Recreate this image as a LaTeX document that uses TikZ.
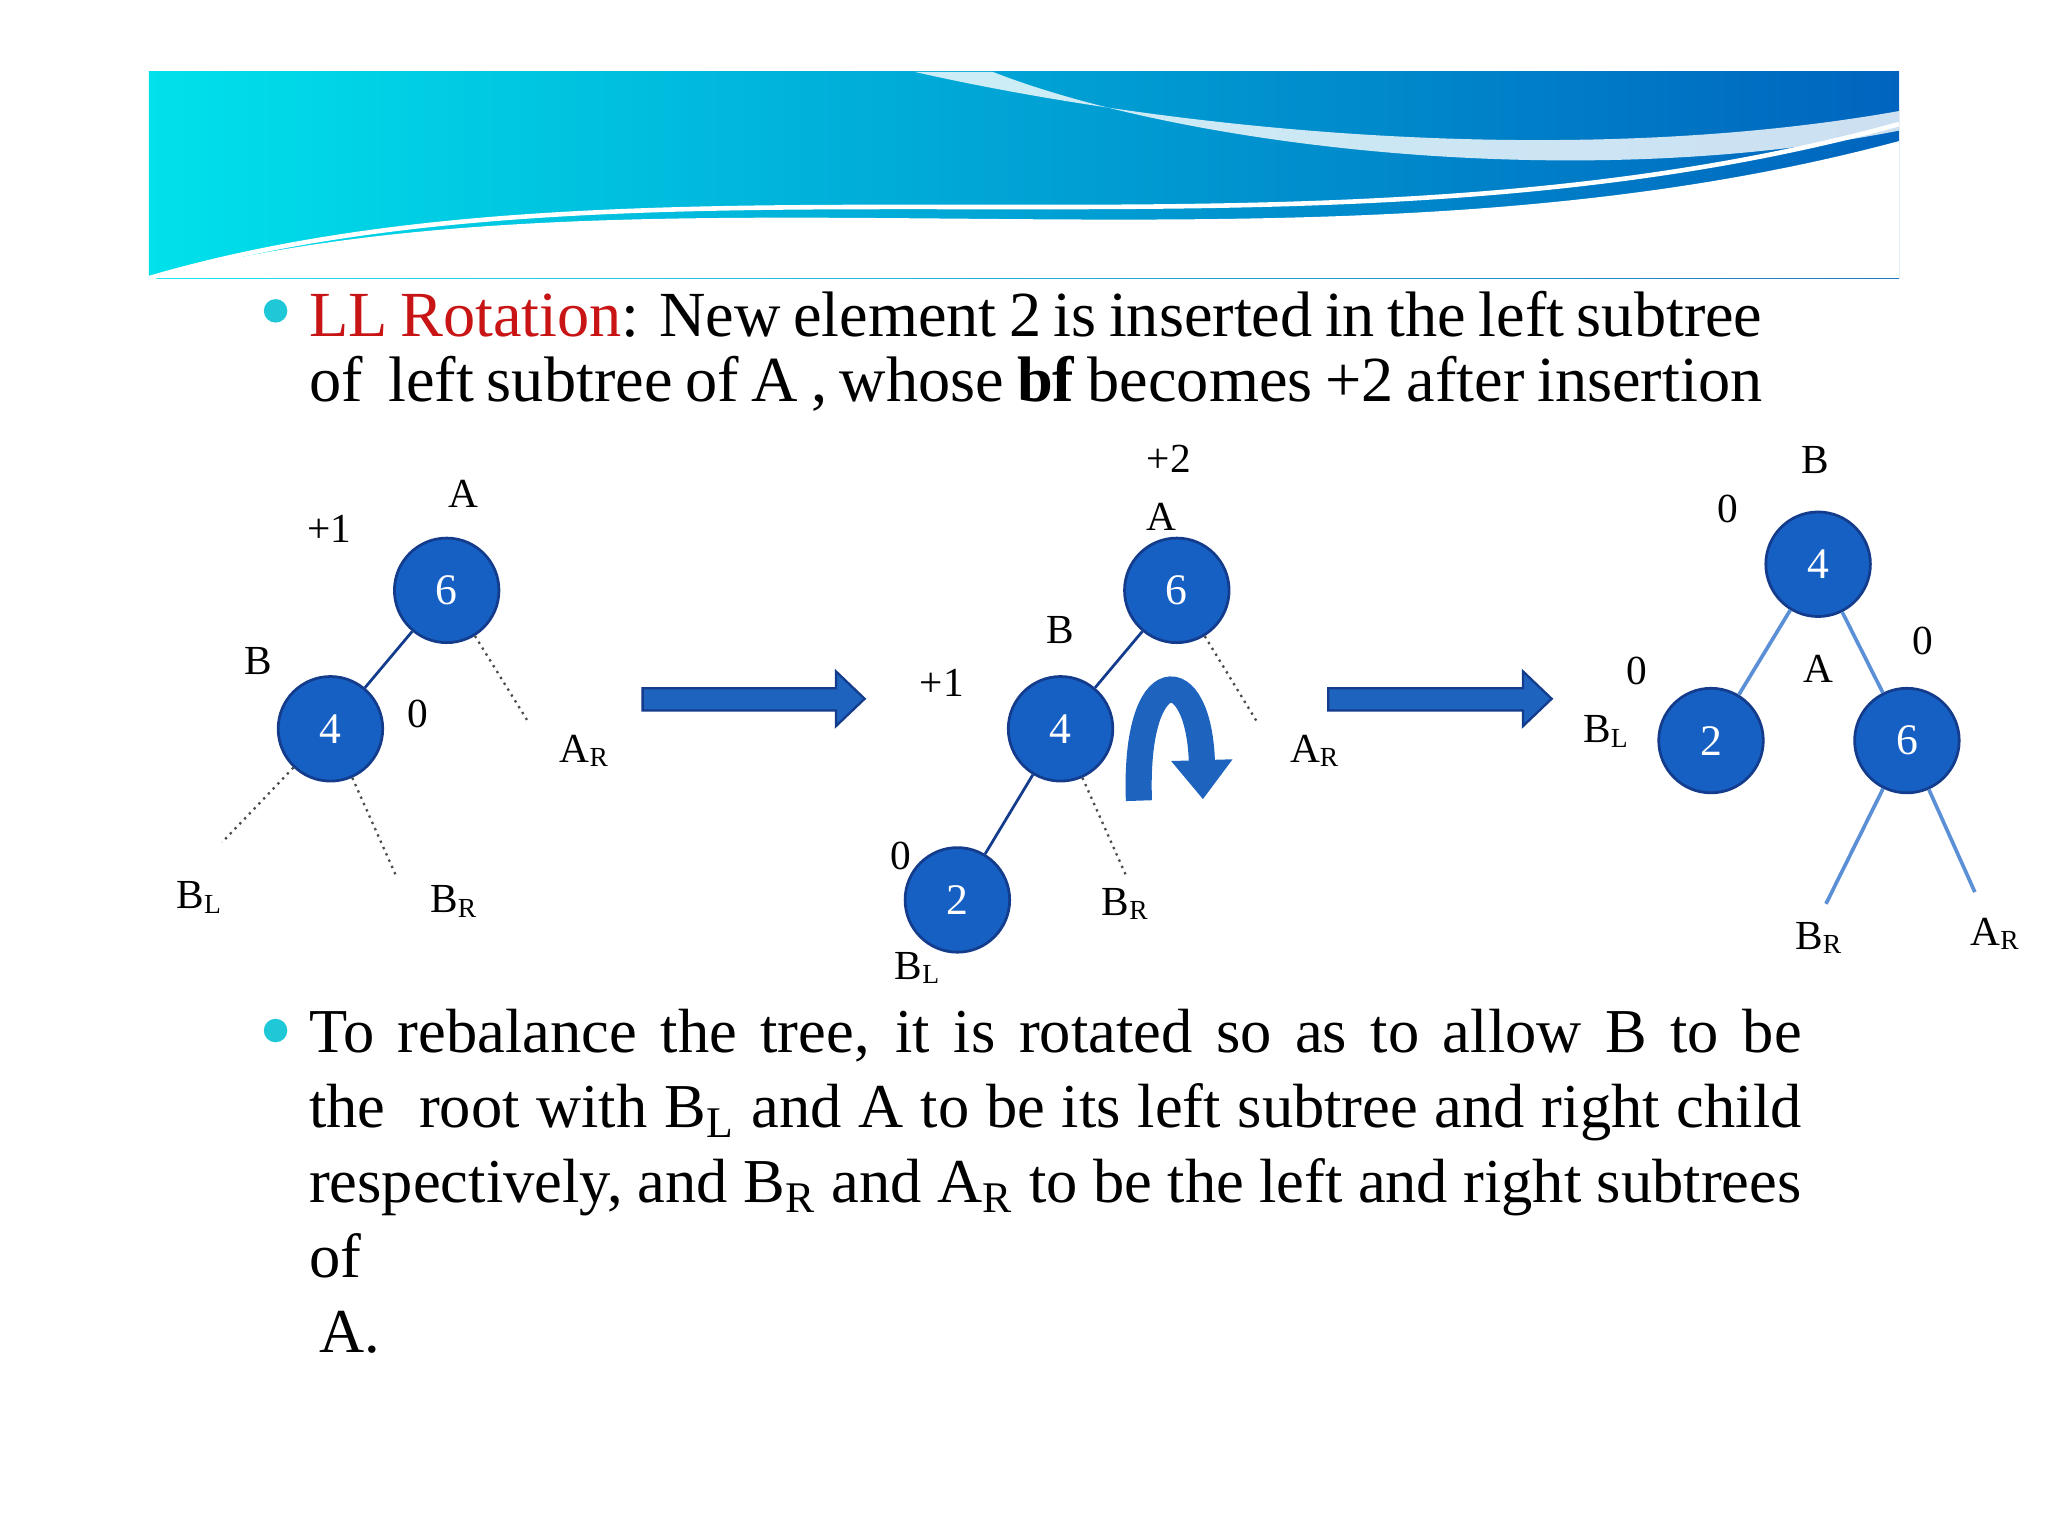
\documentclass[tikz,border=0pt]{standalone}
\usepackage{fontspec}
\setmainfont{Liberation Serif}
\usetikzlibrary{arrows.meta}
\definecolor{nodeblue}{RGB}{22,96,196}
\definecolor{nodeedge}{RGB}{20,60,140}
\definecolor{llred}{RGB}{200,20,20}
\definecolor{bul}{RGB}{30,200,215}
\definecolor{arrowblue}{RGB}{30,100,190}
\begin{document}
\begin{tikzpicture}[x=0.01cm,y=-0.01cm,
  tn/.style={circle,fill=nodeblue,draw=nodeedge,line width=0.6pt,minimum size=0.8cm,inner sep=0pt,text=white,font=\fontsize{9.5}{11}\selectfont},
  lb/.style={font=\fontsize{9}{11}\selectfont,inner sep=1pt},
  dl/.style={densely dotted,line width=0.5pt,draw=black!70},
  sl/.style={line width=0.6pt,draw=nodeedge},
  tl/.style={line width=0.8pt,draw=nodeblue!70},
  blk/.style={fill=arrowblue,draw=nodeedge,line width=0.5pt}]
\useasboundingbox (0,0) rectangle (1568,1176);
\fill[white] (0,0) rectangle (1568,1176);
% banner
\shade[left color={rgb,255:red,0;green,225;blue,235},right color={rgb,255:red,0;green,100;blue,190}] (114,55) rectangle (1454,213);
\fill[white] (114,213) .. controls (500,110) and (1000,230) .. (1454,108) -- (1454,213) -- cycle;
\fill[white,opacity=0.8] (700,55) .. controls (900,100) and (1200,130) .. (1454,85) -- (1454,100) .. controls (1200,150) and (900,110) .. (760,55) -- cycle;
\draw[white,line width=1pt] (114,213) .. controls (500,100) and (1000,220) .. (1454,95);
% bullet 1
\fill[bul] (211,238) circle (9);
\node[anchor=north west,inner sep=0pt,text width=11.12cm,align=justify,font=\fontsize{14}{14.2}\selectfont] (t1) at (236,222)
{\textcolor{llred}{LL Rotation}: New element 2 is inserted in the left subtree\linebreak of\ \ left subtree of A , whose \textbf{bf} becomes +2 after insertion};
% tree 1
\node[tn] (a1) at (342,452) {6};
\node[tn] (b1) at (253,558) {4};
\draw[sl] (a1) -- (b1);
\coordinate (ar1) at (404,552);
\coordinate (bl1) at (170,645);
\coordinate (br1) at (303,670);
\draw[dl] (a1) -- (ar1);
\draw[dl] (b1) -- (bl1);
\draw[dl] (b1) -- (br1);
\node[lb] at (355,378) {A};
\node[lb] at (252,405) {+1};
\node[lb] at (198,506) {B};
\node[lb] at (320,547) {0};
\node[lb] at (448,575) {A\textsubscript{R}};
\node[lb] at (153,687) {B\textsubscript{L}};
\node[lb] at (348,690) {B\textsubscript{R}};
% arrow 1
\draw[blk] (492,527) -- (640,527) -- (640,514) -- (662,535) -- (640,556) -- (640,544) -- (492,544) -- cycle;
% tree 2
\node[tn] (a2) at (901,452) {6};
\node[tn] (b2) at (812,558) {4};
\node[tn] (c2) at (733,689) {2};
\draw[sl] (a2) -- (b2);
\draw[sl] (b2) -- (c2);
\coordinate (ar2) at (962,552);
\coordinate (br2) at (862,670);
\draw[dl] (a2) -- (ar2);
\draw[dl] (b2) -- (br2);
\node[lb] at (895,351) {+2};
\node[lb] at (889,396) {A};
\node[lb] at (812,482) {B};
\node[lb] at (721,523) {+1};
\node[lb] at (1007,575) {A\textsubscript{R}};
\node[lb] at (690,655) {0};
\node[lb] at (703,741) {B\textsubscript{L}};
\node[lb] at (862,692) {B\textsubscript{R}};
\coordinate (cs) at (872,613);
\coordinate (ce) at (921,612);
\draw[arrowblue,line width=0.2cm,-{Triangle[length=0.3cm,width=0.45cm]}] (cs) .. controls (868,505) and (918,505) .. (ce);
% arrow 2
\draw[blk] (1017,527) -- (1166,527) -- (1166,514) -- (1188,535) -- (1166,556) -- (1166,544) -- (1017,544) -- cycle;
% tree 3
\node[tn] (b3) at (1392,432) {4};
\node[tn] (c3) at (1310,567) {2};
\node[tn] (a3) at (1460,567) {6};
\draw[tl] (b3) -- (c3);
\draw[tl] (b3) -- (a3);
\coordinate (br3) at (1398,692);
\coordinate (ar3) at (1512,683);
\draw[tl] (a3) -- (br3);
\draw[tl] (a3) -- (ar3);
\node[lb] at (1390,352) {B};
\node[lb] at (1323,390) {0};
\node[lb] at (1253,514) {0};
\node[lb] at (1392,512) {A};
\node[lb] at (1472,491) {0};
\node[lb] at (1230,560) {B\textsubscript{L}};
\node[lb] at (1393,718) {B\textsubscript{R}};
\node[lb] at (1528,715) {A\textsubscript{R}};
% bullet 2
\fill[bul] (211,789) circle (9);
\node[anchor=north west,inner sep=0pt,text width=11.42cm,align=justify,font=\fontsize{13.6}{16.3}\selectfont] (t2) at (236,772)
{\hyphenpenalty=10000\relax To rebalance the tree, it is rotated so as to allow B to be\linebreak the\ \ root with B\textsubscript{L} and A to be its left subtree and right child\linebreak respectively, and B\textsubscript{R} and A\textsubscript{R} to be the left and right subtrees of\\ \hspace*{0.08cm}A.};
\end{tikzpicture}
\end{document}
